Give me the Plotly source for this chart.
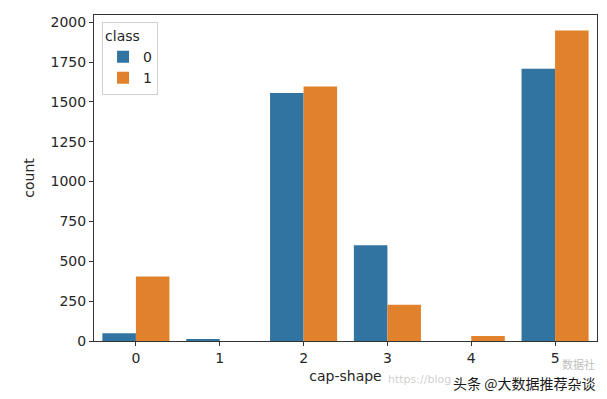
import plotly.graph_objects as go

categories = ["0", "1", "2", "3", "4", "5"]
class0_counts = [48, 8, 1556, 600, 0, 1708]
class1_counts = [404, 0, 1596, 228, 32, 1948]
series_names = ["0", "1"]
y_ticks = [0, 250, 500, 750, 1000, 1250, 1500, 1750, 2000]

blue = "#3274a1"
orange = "#e1812c"

fig = go.Figure()
fig.add_trace(go.Bar(x=[int(c) for c in categories], y=class0_counts, name=series_names[0],
                     marker=dict(color=blue, line=dict(width=0))))
fig.add_trace(go.Bar(x=[int(c) for c in categories], y=class1_counts, name=series_names[1],
                     marker=dict(color=orange, line=dict(width=0))))

font = dict(family="DejaVu Sans", size=14, color="#262626")

fig.update_layout(
    width=599, height=391,
    margin=dict(l=86, r=10, t=7, b=58),
    paper_bgcolor="white", plot_bgcolor="white",
    barmode="group", bargap=0.2, bargroupgap=0,
    font=font,
    showlegend=True,
    legend=dict(
        title=dict(text="class", side="top", font=dict(size=14)),
        x=0.016, y=0.979, xanchor="left", yanchor="top",
        bgcolor="rgba(255,255,255,0.8)", bordercolor="#d0d0d0", borderwidth=1,
        font=dict(size=14),
    ),
    xaxis=dict(
        range=[-0.5, 5.5], tickvals=[0, 1, 2, 3, 4, 5], ticktext=categories,
        showline=True, mirror=True, linecolor="#333333", linewidth=1,
        ticks="outside", ticklen=4, tickcolor="#333333",
        showgrid=False, zeroline=False,
        title=dict(text="cap-shape", standoff=6, font=dict(size=14)),
    ),
    yaxis=dict(
        range=[0, 2045], tickvals=y_ticks,
        showline=True, mirror=True, linecolor="#333333", linewidth=1,
        ticks="outside", ticklen=4, tickcolor="#333333",
        showgrid=False, zeroline=False,
        title=dict(text="count", standoff=12, font=dict(size=14)),
    ),
)

fig.add_annotation(text="https://blog", x=0.58, y=0, xref="paper", yref="paper",
                   xanchor="left", yanchor="top", yshift=-30,
                   showarrow=False, font=dict(size=11, color="rgba(175,175,175,0.6)"))
fig.add_annotation(text="头条 @大数据推荐杂谈", x=1.0, y=0, xref="paper", yref="paper",
                   xanchor="right", yanchor="top", yshift=-30, xshift=0,
                   showarrow=False, font=dict(family="Noto Sans CJK SC", size=14, color="#1a1a1a"))
fig.add_annotation(text="数据社", x=1.0, y=0, xref="paper", yref="paper",
                   xanchor="right", yanchor="top", yshift=-13, xshift=0,
                   showarrow=False, font=dict(family="Noto Sans CJK SC", size=11, color="rgba(120,120,120,0.5)"))

fig.write_html("out.html")
